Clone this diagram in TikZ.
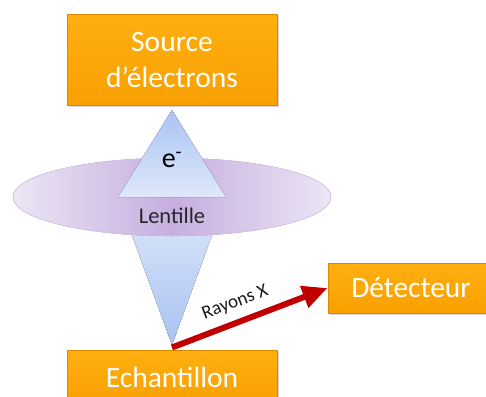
\documentclass[tikz,border=0pt]{standalone}
\usepackage{fontspec}
\setmainfont{Carlito}
\usetikzlibrary{arrows.meta,shadows}
\definecolor{orTop}{HTML}{FFAE10}
\definecolor{orBot}{HTML}{F9A000}
\definecolor{orEdge}{HTML}{D98A00}
\definecolor{bluDark}{HTML}{A9C3F4}
\definecolor{bluLight}{HTML}{DFE8FA}
\definecolor{lavDark}{HTML}{C6AEDF}
\definecolor{lavLight}{HTML}{ECE6F5}
\definecolor{lavEdge}{HTML}{D5C6EA}
\definecolor{rayRed}{HTML}{C00000}
\tikzset{
  obox/.style={draw=orEdge, line width=1pt, top color=orTop, bottom color=orBot,
    text=white, font=\fontsize{29.5}{36}\selectfont, align=center, inner sep=0pt,
    drop shadow={opacity=0.35, shadow xshift=1.5pt, shadow yshift=-1.5pt}},
  rayarrow/.style={draw=rayRed, line width=6pt, -{Triangle[length=25pt,width=22pt]}},
}
\begin{document}
\begin{tikzpicture}[x=1pt,y=-1pt]
\useasboundingbox (0,0) rectangle (486,396);
\clip (0,0) rectangle (486,396);
% lower cone
\fill[top color=bluLight, bottom color=bluDark] (118,197) -- (226,197) -- (172,345) -- cycle;
% lens
\fill[left color=lavLight, right color=lavLight, middle color=lavDark]
  (172,197) ellipse [x radius=159, y radius=39];
\draw[lavEdge, line width=0.6pt] (172,197) ellipse [x radius=159, y radius=39];
% upper cone
\fill[top color=bluDark, bottom color=bluLight] (172,110) -- (226,197) -- (118,197) -- cycle;
\node[font=\fontsize{28}{30}\selectfont, text=black] (e) at (172,160) {e\textsuperscript{-}};
\node[font=\fontsize{22.5}{26}\selectfont, text=black!85] (lens) at (172,216) {Lentille};
% boxes
\node[obox, minimum width=210pt, minimum height=90pt] (src) at (172,60) {Source\\d’électrons};
\node[obox, minimum width=210pt, minimum height=54pt] (ech) at (172,377) {Echantillon};
\node[obox, minimum width=166pt, minimum height=50pt] (det) at (411,288) {Détecteur};
% X-rays
\draw[rayarrow] ([yshift=2pt]ech.north) -- (det.west)
  node[pos=0.45, sloped, above=5pt, font=\fontsize{19}{22}\selectfont, text=black!90] (rx) {Rayons X};
\end{tikzpicture}
\end{document}
